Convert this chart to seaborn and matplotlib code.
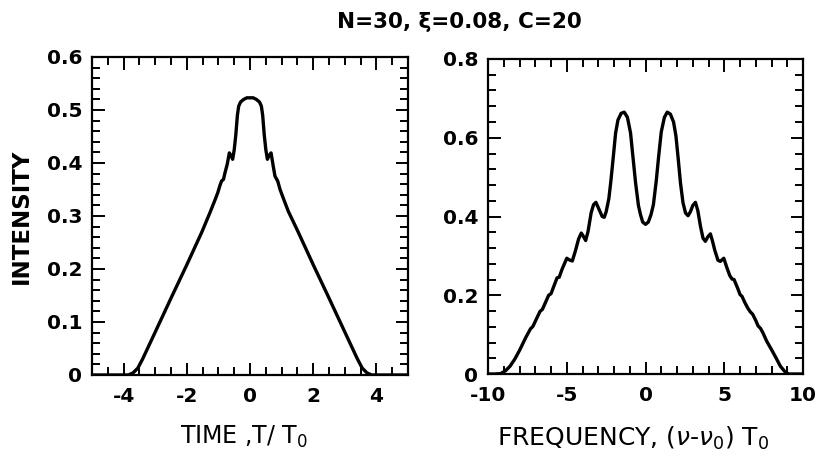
import numpy as np
import pandas as pd
import matplotlib
matplotlib.use("Agg")
import matplotlib.pyplot as plt
from matplotlib.ticker import MultipleLocator
import seaborn as sns

#####################################
# data
#####################################
# left panel: intensity vs time T/T0
time_x = [-5.0, -4.2, -3.85, -3.7, -3.55, -3.4, -3.0, -2.5, -2.0, -1.53,
          -1.27, -1.11, -1.02, -0.95, -0.9, -0.84, -0.79, -0.72, -0.655, -0.6,
          -0.55, -0.5, -0.45, -0.4, -0.36, -0.3, -0.2, -0.1, 0.0, 0.1,
          0.2, 0.3, 0.36, 0.4, 0.45, 0.5, 0.55, 0.6, 0.665, 0.74,
          0.79, 0.875, 0.95, 1.05, 1.21, 1.53, 2.0, 2.5, 3.0, 3.4,
          3.55, 3.7, 3.85, 4.2, 5.0]
time_y = [0.0, 0.0, 0.0, 0.004, 0.013, 0.030, 0.081, 0.145, 0.208, 0.269,
          0.306, 0.330, 0.344, 0.358, 0.366, 0.369, 0.382, 0.398, 0.419, 0.414,
          0.407, 0.425, 0.453, 0.490, 0.507, 0.515, 0.520, 0.523, 0.523, 0.523,
          0.520, 0.515, 0.507, 0.490, 0.453, 0.425, 0.407, 0.414, 0.419, 0.392,
          0.375, 0.366, 0.350, 0.334, 0.309, 0.269, 0.208, 0.145, 0.081, 0.030,
          0.013, 0.004, 0.0, 0.0, 0.0]

# right panel: intensity vs frequency (nu - nu0) T0
freq_x = [-10.0, -9.6, -9.2, -8.9, -8.6, -8.3, -8.0, -7.6, -7.45, -7.3,
          -7.15, -6.95, -6.7, -6.55, -6.35, -6.15, -6.0, -5.85, -5.62, -5.48,
          -5.3, -5.0, -4.85, -4.65, -4.45, -4.25, -4.08, -3.95, -3.8, -3.65,
          -3.45, -3.3, -3.15, -2.95, -2.75, -2.62, -2.5, -2.33, -2.2, -2.05,
          -1.9, -1.75, -1.55, -1.35, -1.15, -0.95, -0.8, -0.63, -0.45, -0.32,
          -0.18, 0.0, 0.18, 0.35, 0.5, 0.68, 0.84, 1.0, 1.2, 1.38,
          1.58, 1.78, 1.93, 2.08, 2.22, 2.38, 2.54, 2.7, 2.85, 3.0,
          3.17, 3.32, 3.49, 3.65, 3.8, 3.95, 4.12, 4.25, 4.4, 4.6,
          4.75, 4.97, 5.15, 5.35, 5.5, 5.62, 5.85, 6.0, 6.13, 6.3,
          6.5, 6.65, 6.8, 7.0, 7.15, 7.3, 7.45, 7.7, 8.0, 8.3,
          8.56, 8.85, 9.1, 9.6, 10.0]
freq_y = [0.0, 0.0, 0.001, 0.008, 0.020, 0.038, 0.060, 0.093, 0.104, 0.115,
          0.121, 0.138, 0.159, 0.164, 0.182, 0.200, 0.204, 0.220, 0.244, 0.246,
          0.266, 0.294, 0.290, 0.287, 0.313, 0.343, 0.358, 0.350, 0.339, 0.362,
          0.410, 0.430, 0.436, 0.418, 0.400, 0.398, 0.412, 0.445, 0.490, 0.550,
          0.612, 0.645, 0.662, 0.665, 0.652, 0.612, 0.552, 0.485, 0.428, 0.405,
          0.386, 0.380, 0.386, 0.405, 0.430, 0.490, 0.555, 0.615, 0.652, 0.665,
          0.660, 0.640, 0.605, 0.545, 0.485, 0.435, 0.409, 0.402, 0.412, 0.428,
          0.436, 0.415, 0.375, 0.345, 0.337, 0.348, 0.356, 0.338, 0.314, 0.289,
          0.286, 0.294, 0.272, 0.250, 0.241, 0.240, 0.218, 0.202, 0.197, 0.182,
          0.167, 0.158, 0.152, 0.136, 0.122, 0.116, 0.105, 0.083, 0.062, 0.040,
          0.020, 0.006, 0.0, 0.0, 0.0]

time_ticks = [-4, -2, 0, 2, 4]
time_tick_labels = ["-4", "-2", "0", "2", "4"]
int_ticks_left = [0, 0.1, 0.2, 0.3, 0.4, 0.5, 0.6]
int_labels_left = ["0", "0.1", "0.2", "0.3", "0.4", "0.5", "0.6"]
freq_ticks = [-10, -5, 0, 5, 10]
freq_tick_labels = ["-10", "-5", "0", "5", "10"]
int_ticks_right = [0, 0.2, 0.4, 0.6, 0.8]
int_labels_right = ["0", "0.2", "0.4", "0.6", "0.8"]

#####################################
# style
#####################################
sns.set_style("ticks")
plt.rcParams["font.family"] = ["DejaVu Sans"]
plt.rcParams["axes.unicode_minus"] = False
plt.rcParams["mathtext.fontset"] = "dejavusans"
plt.rcParams["text.color"] = "black"
plt.rcParams["axes.labelcolor"] = "black"
plt.rcParams["xtick.labelcolor"] = "black"
plt.rcParams["ytick.labelcolor"] = "black"

narrow = ["Liberation Sans Narrow", "DejaVu Sans"]


def style_axes(ax, xmin, ymin):
    for s in ax.spines.values():
        s.set_linewidth(1.6)
        s.set_color("black")
        s.set_visible(True)
    ax.xaxis.set_minor_locator(MultipleLocator(xmin))
    ax.yaxis.set_minor_locator(MultipleLocator(ymin))
    ax.tick_params(which="both", direction="in", top=True, right=True,
                   color="black", width=1.4)
    ax.tick_params(which="major", length=9, labelsize=14.5)
    ax.tick_params(which="minor", length=6)
    ax.tick_params(axis="x", pad=8.5)
    ax.tick_params(axis="y", pad=7)
    for lab in ax.get_xticklabels() + ax.get_yticklabels():
        lab.set_fontweight("bold")


fig = plt.figure(figsize=(8.23, 4.66), dpi=100)
ax1 = fig.add_axes([0.1118, 0.1953, 0.3840, 0.6824])
ax2 = fig.add_axes([0.5930, 0.1974, 0.3827, 0.6760])

df_t = pd.DataFrame({"x": time_x, "y": time_y})
df_f = pd.DataFrame({"x": freq_x, "y": freq_y})

sns.lineplot(data=df_t, x="x", y="y", ax=ax1, color="black", lw=2.4,
             errorbar=None, sort=False)
sns.lineplot(data=df_f, x="x", y="y", ax=ax2, color="black", lw=2.4,
             errorbar=None, sort=False)
for ax in (ax1, ax2):
    for ln in ax.get_lines():
        ln.set_solid_joinstyle("round")
        ln.set_solid_capstyle("round")

ax1.set_xlim(-5, 5)
ax1.set_ylim(0, 0.6)
ax1.set_xticks(time_ticks)
ax1.set_xticklabels(time_tick_labels)
ax1.set_yticks(int_ticks_left)
ax1.set_yticklabels(int_labels_left)
style_axes(ax1, 0.5, 0.02)

ax2.set_xlim(-10, 10)
ax2.set_ylim(0, 0.8)
ax2.set_xticks(freq_ticks)
ax2.set_xticklabels(freq_tick_labels)
ax2.set_yticks(int_ticks_right)
ax2.set_yticklabels(int_labels_right)
style_axes(ax2, 1, 0.04)

ax1.set_xlabel(r"TIME ,T/ T$_\mathregular{0}$", family=narrow, fontsize=17)
ax1.xaxis.set_label_coords(0.48, -0.155)
ax1.set_ylabel("INTENSITY", fontsize=16.5, fontweight="bold", labelpad=10)
ax2.set_xlabel(r"FREQUENCY, ($\nu$-$\nu_\mathregular{0}$) T$_\mathregular{0}$",
               family=narrow, fontsize=18)
ax2.xaxis.set_label_coords(0.46, -0.16)
ax2.set_ylabel("")

fig.text(0.558, 0.952, "N=30, \u03be=0.08, C=20", ha="center", va="center",
         fontsize=15.5, fontweight="bold")

fig.savefig("out.png", dpi=100)
